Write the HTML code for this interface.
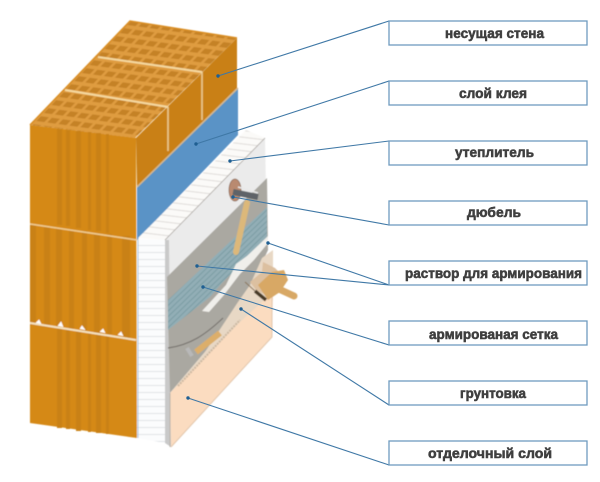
<!DOCTYPE html>
<html lang="ru"><head><meta charset="utf-8"><title>Утепление стены</title>
<style>html,body{margin:0;padding:0;background:#fff;width:600px;height:482px;overflow:hidden}svg{display:block}
text{font-family:"Liberation Sans","Noto Sans CJK SC",sans-serif;font-weight:bold;font-size:14px;fill:#3f3f3f;stroke:#3f3f3f;stroke-width:.55}</style></head>
<body>
<svg width="600" height="482" viewBox="0 0 600 482" xmlns="http://www.w3.org/2000/svg">
<defs>
<filter id="b" x="-5%" y="-5%" width="110%" height="110%"><feGaussianBlur stdDeviation=".6"/></filter>
<filter id="t" x="-5%" y="-20%" width="110%" height="140%"><feGaussianBlur stdDeviation=".35"/></filter>
<pattern id="holes" width="11" height="8" patternUnits="userSpaceOnUse" patternTransform="matrix(1 .14 -.95 1 0 0)">
<rect width="11" height="8" fill="#df9c40"/><rect x="1.5" y="1.5" width="8" height="4.8" fill="#c58228"/></pattern>
<pattern id="hatch" width="7" height="6" patternUnits="userSpaceOnUse" patternTransform="matrix(1 .12 -1 1 0 0)">
<rect width="7" height="6" fill="#fbfaf8"/><path d="M0 .5H7" stroke="#dcd9d6" stroke-width=".8"/></pattern>
<pattern id="hlines" width="28" height="7" patternUnits="userSpaceOnUse">
<rect width="28" height="7" fill="#fbfcfd"/><path d="M0 .5H28" stroke="#d8dbe0" stroke-width=".8"/></pattern>
<pattern id="mesh" width="4" height="4" patternUnits="userSpaceOnUse" patternTransform="rotate(-44)">
<rect width="4" height="4" fill="#92aeb6"/><path d="M0 .5H4" stroke="#76999f" stroke-width=".8"/></pattern>
</defs>
<rect width="600" height="482" fill="#fff"/>
<g filter="url(#b)">
<!-- brick -->
<polygon points="30,125 130,21 237,38 135,138" fill="url(#holes)"/>
<polyline points="30,125 130,21 237,38" fill="none" stroke="#d98d24" stroke-width="1.5"/>
<polygon points="136,138 237,38 237,88 137,187" fill="#c98013"/>
<path d="M168 107V151M202 72V120" stroke="#e9c98f" stroke-width="1.6"/>
<path d="M65 90L168 107M98 57L202 72" stroke="#f5d9a0" stroke-width="2"/>
<polygon points="30,125 136,138 137,438 30,423" fill="#d58918"/>
<g fill="#c98115">
<rect x="57" y="129" width="5" height="96"/><rect x="66" y="130" width="4" height="96"/><rect x="76" y="131" width="5" height="97"/><rect x="88" y="132" width="3" height="98"/><rect x="96" y="133" width="5" height="98"/><rect x="106" y="134" width="3" height="99"/>
<rect x="30" y="225" width="6" height="100"/><rect x="44" y="227" width="6" height="100"/><rect x="56" y="228" width="6" height="100"/><rect x="69" y="230" width="5" height="100"/><rect x="82" y="231" width="5" height="100"/><rect x="94" y="233" width="6" height="100"/><rect x="107" y="234" width="5" height="100"/><rect x="122" y="236" width="8" height="102"/>
<rect x="57" y="328" width="5" height="100"/><rect x="66" y="329" width="4" height="100"/><rect x="76" y="331" width="5" height="100"/><rect x="88" y="332" width="3" height="100"/><rect x="96" y="333" width="5" height="100"/><rect x="106" y="334" width="3" height="100"/>
</g>
<path d="M30 224L137 240" stroke="#eecb90" stroke-width="1.6"/>
<path d="M30 323L136 340" stroke="#f4e2c0" stroke-width="2"/>
<path d="M36 323l3-3 2 4M58 326l3-4 2 5M80 329l2-3 3 4M100 332l3-3 2 4M118 335l3-3 2 4" fill="#fff" stroke="#fff" stroke-width=".8"/>
<!-- glue -->
<polygon points="137,187 238,88 238,135 137,240" fill="#5a93c6"/>
<polyline points="137,187 238,88" fill="none" stroke="#d3b98d" stroke-width="1.5"/>
<!-- insulation -->
<polygon points="138,238 246,130 265,138 165,240" fill="url(#hatch)"/>
<polygon points="138,239 165,240 165,443 137,438" fill="url(#hlines)"/>
<path d="M138 239V438" stroke="#a9c4de" stroke-width="1"/>
<polygon points="165,240 265,138 267,240 167,345" fill="#ebebeb"/>
<path d="M165 240L265 138" stroke="#a9a49f" stroke-width=".8"/>
<polygon points="165,240 169,240 171,447 165,443" fill="#c9c9c9"/>
<!-- plaster -->
<polygon points="167,277 267,178 268,250 245,300 205,352 170,393" fill="#aaa8a1"/>
<polygon points="168,300 267,207 267,237 240,265 222,283 210,297 168,330" fill="url(#mesh)"/>
<polygon points="268,236 247,256 236,264 226,285 214,298 202,311 209,312 224,295 240,274 254,260 268,243" fill="#f0efeb"/>
<polygon points="273,250 262,258 250,285 238,302 205,352 170,393 273,300" fill="#e8d8c5"/>
<polygon points="170,393 240,322 273,292 272,337 171,447" fill="#fbdcc0"/>
<path d="M170 393V447" stroke="#b9b2aa" stroke-width="1"/>
<path d="M171 447L272 337V290" fill="none" stroke="#e3c8ae" stroke-width="1"/>
<path d="M178 386L240 320" stroke="#cdb9a2" stroke-width="2" stroke-dasharray="2 1"/>
<!-- hammer / dowel -->
<path d="M247 203L236 252" stroke="#dcb87a" stroke-width="6" stroke-linecap="round"/>
<ellipse cx="235" cy="190" rx="6" ry="11" fill="#b98a6f" stroke="#8c6a58" stroke-width=".8"/>
<path d="M233 192L258 197" stroke="#5f6468" stroke-width="6"/>
<path d="M238 187L258 193" stroke="#e8e8e8" stroke-width="1.5"/>
<!-- trowel -->
<polygon points="263,262 275,268 282,275 278,284 268,296 256,290 250,282 262,272" fill="#dcc0a0"/>
<polygon points="258,285 272,272 284,270 288,280 280,292 268,300" fill="#d8a865"/>
<path d="M270 285L294 296" stroke="#d8a865" stroke-width="7" stroke-linecap="round"/>
<path d="M255 291L266 300" stroke="#4a3a28" stroke-width="3.5"/>
<path d="M245 282L255 291" stroke="#8a7358" stroke-width="1"/>
<path d="M168 348C190 345 205 335 223 318" fill="none" stroke="#77736e" stroke-width="1.2"/>
<path d="M220 333L196 352" stroke="#dcae6a" stroke-width="6"/>
<path d="M187 348l5 8" stroke="#b8b8b8" stroke-width="4"/>
</g>
<!-- leaders -->
<g stroke="#3f78a6" stroke-width="1.1" fill="none">
<path d="M218 76L389 21M196 144L389 81M230 161L389 141M233 197L389 225M268 243L389 285M197 266L389 285M203 287L389 345M241 309L389 405M188 398L389 465"/>
</g>
<g fill="#1f5f92">
<circle cx="218" cy="76" r="1.7"/><circle cx="196" cy="144" r="1.7"/><circle cx="230" cy="161" r="1.7"/><circle cx="233" cy="197" r="1.7"/><circle cx="268" cy="243" r="1.7"/><circle cx="197" cy="266" r="1.7"/><circle cx="203" cy="287" r="1.7"/><circle cx="241" cy="309" r="1.7"/><circle cx="188" cy="398" r="1.7"/>
</g>
<!-- boxes -->
<g fill="#fff" stroke="#6f9cbf" stroke-width="1.3">
<rect x="389" y="21" width="198" height="24"/><rect x="389" y="81" width="198" height="24"/><rect x="389" y="141" width="198" height="24"/><rect x="389" y="201" width="198" height="24"/><rect x="389" y="261" width="198" height="24"/><rect x="389" y="321" width="198" height="24"/><rect x="389" y="381" width="198" height="24"/><rect x="389" y="441" width="198" height="24"/>
</g>
<g filter="url(#t)">
<text x="445" y="38" textLength="99" lengthAdjust="spacingAndGlyphs">несущая стена</text>
<text x="459" y="98" textLength="68" lengthAdjust="spacingAndGlyphs">слой клея</text>
<text x="455" y="157" textLength="79" lengthAdjust="spacingAndGlyphs">утеплитель</text>
<text x="467" y="217" textLength="54" lengthAdjust="spacingAndGlyphs">дюбель</text>
<text x="405" y="278" textLength="177" lengthAdjust="spacingAndGlyphs">раствор для армирования</text>
<text x="429" y="339" textLength="129" lengthAdjust="spacingAndGlyphs">армированая сетка</text>
<text x="460" y="398" textLength="66" lengthAdjust="spacingAndGlyphs">грунтовка</text>
<text x="428" y="458" textLength="124" lengthAdjust="spacingAndGlyphs">отделочный  слой</text>
</g>
</svg>
</body></html>
